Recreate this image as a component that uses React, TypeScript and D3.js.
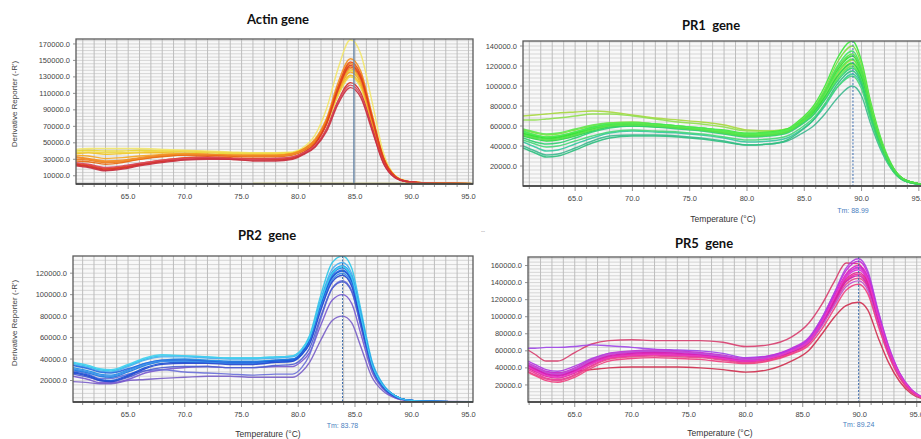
import React from "react";
import * as d3 from "d3";

// ---------- DATA (values in thousands of Derivative Reporter units) ----------
const X_TICKS = [65, 70, 75, 80, 85, 90, 95];

const ACTIN_T = [60.4, 61.5, 63, 64.5, 66, 68, 70, 72, 74, 76, 78, 79.5, 80.5, 81.5, 82.5, 83.5, 84.6, 85.5, 86.5, 87.5, 88.5, 89.5, 91, 93, 95.4];
const ACTIN_CURVES: (number | null)[][] = [
  [42, 43, 43, 43, 43, 42, 41, 40, 39, 38, 38, 39, 45, 60, 92, 140, 175, 158, 100, 38, 11, 4, 1.5, 0.8, 0.5],
  [40, 41, 40, 40, 41, 40, 39, 38, 37, 37, 37, 38, 43, 53, 77, 113, 138, 124, 76, 30, 9, 3, 1.3, 0.7, 0.4],
  [37, 38, 36, 37, 38, 38, 37, 36, 35, 35, 35, 36, 41, 51, 73, 108, 132, 119, 73, 29, 9, 3, 1.3, 0.7, 0.4],
  [38, 39, 38, 38, 39, 40, 40, 39, 38, 37, 37, 38, 43, 52, 74, 107, 130, 117, 72, 29, 9, 3, 1.3, 0.7, 0.4],
  [35, 34, 31, 32, 34, 36, 37, 36, 35, 35, 35, 37, 42, 52, 75, 111, 136, 122, 75, 30, 9, 3, 1.3, 0.7, 0.4],
  [33, 31, 28, 29, 32, 35, 36, 36, 35, 35, 35, 37, 43, 55, 80, 123, 152, 137, 85, 33, 10, 3.5, 1.4, 0.8, 0.5],
  [30, 29, 26, 27, 30, 34, 35, 35, 34, 34, 34, 36, 42, 53, 78, 118, 146, 131, 81, 32, 10, 3.5, 1.4, 0.7, 0.5],
  [28, 27, 24, 26, 30, 33, 35, 35, 34, 33, 33, 35, 41, 52, 76, 115, 142, 127, 79, 31, 9, 3.2, 1.4, 0.7, 0.5],
  [32, 30, 27, 28, 31, 35, 36, 36, 35, 34, 34, 36, 42, 52, 76, 114, 140, 126, 78, 31, 9, 3.2, 1.3, 0.7, 0.5],
  [25, 23, 19, 21, 25, 29, 32, 33, 32, 31, 31, 33, 39, 50, 75, 118, 148, 133, 82, 32, 10, 3.4, 1.4, 0.7, 0.5],
  [24, 22, 18, 20, 24, 28, 31, 32, 31, 30, 30, 32, 38, 49, 73, 114, 144, 129, 80, 31, 9, 3.3, 1.4, 0.7, 0.5],
  [23, 21, 17, 19, 23, 27, 30, 31, 30, 29, 29, 31, 37, 46, 67, 101, 123, 111, 69, 27, 8, 3, 1.2, 0.6, 0.4],
  [26, 24, 20, 22, 25, 29, 31, 32, 31, 30, 31, 33, 38, 47, 67, 100, 120, 108, 67, 26, 8, 3, 1.2, 0.6, 0.4],
  [22, 20, 16, 18, 22, 26, 29, 30, 30, 28, 28, 30, 36, 45, 64, 97, 117, 105, 65, 25, 8, 3, 1.2, 0.6, 0.4],
  [null, null, null, null, null, null, null, null, null, 0.6, 0.6, 0.6, 0.6, 0.6, 0.6, 0.6, 0.6, 0.6, 0.6, 0.6, 0.6, 0.6, 0.6, 0.6, 0.6],
];
const ACTIN_COLORS = ["#f2e66a", "#e8d630", "#f0c020", "#f0d848", "#f5a623", "#f39020", "#ee7d18", "#e86a10", "#f08a2a", "#e8501a", "#dc3a20", "#d43028", "#d84860", "#c83040", "#b8b040"];
const ACTIN_Y_TICKS = [10000, 30000, 50000, 70000, 90000, 110000, 130000, 150000, 170000];

const PR1_T = [60.45, 61.5, 62.5, 63.5, 65, 66.5, 68, 70, 72, 74, 76, 78, 80, 82, 83.5, 84.7, 85.8, 86.8, 87.9, 89.2, 90, 90.8, 91.8, 92.8, 93.8, 95.45];
const PR1_CURVES: number[][] = [
  [70, 71, 72, 73, 74, 75, 74, 71, 68, 66, 64, 61, 56, 55, 57, 64, 74, 90, 112, 126, 110, 74, 39, 16, 6, 1.5],
  [66, 66, 67, 68, 70, 72, 72, 70, 67, 64, 62, 59, 55, 55, 57, 63, 72, 88, 109, 122, 107, 72, 38, 16, 6, 1.5],
  [40, 35, 31, 32, 38, 45, 50, 51, 51, 50, 48, 45, 41, 42, 45, 52, 60, 72, 88, 100, 90, 62, 33, 14, 5, 1.3],
  [44, 39, 35, 36, 42, 48, 53, 55, 54, 53, 51, 48, 44, 45, 48, 56, 66, 80, 99, 112, 100, 68, 36, 15, 5, 1.4],
  [38, 33, 29, 30, 36, 43, 48, 50, 50, 49, 47, 44, 41, 42, 46, 55, 66, 82, 102, 115, 102, 69, 36, 15, 5, 1.4],
  [46, 42, 39, 40, 45, 50, 54, 56, 55, 54, 52, 49, 46, 47, 50, 58, 68, 82, 99, 110, 97, 66, 35, 14, 5, 1.3],
  [52, 49, 47, 48, 52, 57, 61, 63, 62, 60, 58, 56, 53, 54, 57, 67, 80, 100, 128, 145, 125, 84, 44, 18, 6, 1.5],
  [56, 53, 51, 52, 56, 60, 63, 64, 62, 60, 58, 55, 52, 53, 56, 66, 78, 97, 124, 140, 121, 81, 42, 17, 6, 1.5],
  [55, 51, 49, 50, 54, 59, 62, 63, 62, 60, 58, 55, 52, 53, 56, 65, 77, 95, 120, 135, 117, 78, 41, 17, 6, 1.5],
  [53, 50, 48, 49, 53, 58, 61, 62, 61, 59, 57, 54, 51, 52, 55, 64, 75, 93, 116, 130, 113, 76, 40, 17, 6, 1.5],
  [54, 51, 49, 50, 54, 58, 61, 62, 61, 59, 57, 55, 52, 53, 56, 64, 75, 92, 114, 127, 111, 75, 39, 16, 6, 1.5],
  [50, 47, 45, 46, 50, 55, 59, 60, 59, 58, 56, 53, 50, 51, 54, 62, 73, 89, 110, 123, 108, 73, 38, 16, 6, 1.5],
  [57, 54, 52, 53, 57, 61, 63, 63, 61, 59, 57, 54, 51, 52, 55, 63, 72, 87, 107, 120, 105, 71, 37, 15, 5, 1.5],
  [48, 44, 42, 43, 48, 54, 58, 60, 59, 57, 55, 52, 49, 50, 53, 61, 71, 86, 105, 118, 104, 70, 37, 15, 5, 1.4],
  [51, 48, 46, 47, 51, 56, 60, 61, 60, 58, 56, 53, 50, 51, 54, 63, 76, 94, 118, 132, 115, 77, 40, 17, 6, 1.5],
];
const PR1_COLORS = ["#a8d840", "#90e050", "#40b890", "#38c8a0", "#30c080", "#48d878", "#3ee83e", "#7ee040", "#40e860", "#30e030", "#50ec50", "#28d848", "#60e850", "#30d070", "#58e048"];
const PR1_Y_TICKS = [20000, 40000, 60000, 80000, 100000, 120000, 140000];

const PR2_T = [60.15, 61.5, 62.5, 63.5, 65, 66.5, 68, 70, 72, 74, 76, 78, 79.5, 80.3, 81, 82, 83, 83.9, 84.7, 85.5, 86.5, 87.5, 88.5, 89.5, 91, 95.4];
const PR2_CURVES: number[][] = [
  [19, 18, 17, 17, 20, 21, 22, 23, 24, 24, 23, 23, 23, 28, 37, 58, 76, 80, 74, 52, 23, 10, 4, 1.5, 0.6, 0.2],
  [24, 21, 18, 18, 21, 27, 30, 32, 33, 32, 32, 33, 33, 38, 46, 72, 95, 100, 92, 64, 28, 12, 4, 1.5, 0.6, 0.2],
  [29, 26, 22, 22, 26, 29, 30, 28, 27, 26, 25, 26, 26, 32, 44, 78, 106, 113, 104, 72, 31, 13, 5, 2, 0.8, 0.3],
  [26, 23, 20, 19, 23, 29, 32, 33, 33, 32, 32, 34, 35, 40, 50, 80, 106, 112, 103, 71, 31, 13, 5, 2, 0.8, 0.3],
  [36, 33, 30, 29, 34, 40, 43, 43, 42, 41, 41, 42, 43, 49, 62, 100, 130, 136, 125, 87, 38, 16, 6, 2, 0.8, 0.3],
  [35, 32, 29, 28, 33, 39, 42, 42, 41, 40, 40, 41, 42, 48, 60, 96, 124, 130, 120, 84, 37, 16, 6, 2, 0.8, 0.3],
  [32, 29, 26, 25, 30, 36, 39, 40, 39, 38, 38, 39, 40, 46, 58, 94, 121, 127, 117, 82, 36, 15, 6, 2, 0.8, 0.3],
  [30, 27, 24, 23, 28, 34, 38, 39, 38, 37, 37, 39, 40, 46, 57, 92, 119, 125, 115, 80, 35, 15, 6, 2, 0.8, 0.3],
  [34, 31, 28, 27, 31, 36, 39, 39, 38, 37, 37, 38, 39, 45, 56, 91, 117, 123, 113, 79, 34, 15, 6, 2, 0.8, 0.3],
  [28, 25, 21, 20, 25, 32, 36, 37, 37, 36, 36, 38, 39, 45, 56, 90, 116, 122, 112, 78, 34, 14, 6, 2, 0.8, 0.3],
  [31, 28, 25, 24, 29, 35, 38, 38, 37, 36, 36, 37, 38, 44, 55, 88, 114, 120, 110, 77, 33, 14, 5, 2, 0.8, 0.3],
  [27, 24, 20, 19, 24, 31, 35, 36, 36, 35, 35, 37, 38, 44, 54, 86, 112, 118, 108, 75, 33, 14, 5, 2, 0.8, 0.3],
  [37, 34, 31, 30, 35, 41, 44, 43, 42, 41, 41, 42, 43, 49, 60, 94, 120, 126, 116, 81, 35, 15, 6, 2, 0.8, 0.3],
];
const PR2_COLORS = ["#7a60c8", "#7a5ad0", "#6a70d8", "#5060d0", "#30c8e8", "#48b0f0", "#2090e8", "#1a78e0", "#2a6ae0", "#1858d8", "#3a8ee8", "#2448d0", "#40d0f0"];
const PR2_Y_TICKS = [20000, 40000, 60000, 80000, 100000, 120000];

const PR5_T = [60.9, 61.5, 62.5, 63.5, 65, 66.5, 68, 70, 72, 74, 76, 78, 80, 82, 84, 85.5, 86.7, 87.8, 88.8, 89.9, 90.7, 91.6, 92.5, 93.5, 94.5, 95.9];
const PR5_CURVES: number[][] = [
  [61, 56, 48, 48, 58, 68, 72, 73, 72, 72, 72, 70, 65, 67, 76, 92, 115, 142, 163, 162, 140, 97, 60, 30, 13, 3],
  [40, 38, 35, 34, 36, 38, 40, 41, 41, 41, 40, 38, 35, 38, 48, 60, 80, 100, 113, 117, 108, 76, 47, 24, 10, 2.5],
  [63, 63, 64, 64, 65, 67, 66, 64, 62, 61, 60, 57, 52, 54, 62, 73, 96, 124, 148, 158, 145, 102, 63, 32, 14, 3],
  [42, 38, 32, 30, 36, 46, 53, 56, 57, 56, 55, 52, 49, 52, 61, 72, 96, 125, 150, 160, 147, 103, 64, 33, 14, 3],
  [46, 42, 36, 34, 40, 50, 57, 60, 61, 60, 58, 55, 51, 54, 63, 75, 99, 128, 154, 165, 151, 106, 66, 34, 15, 3],
  [38, 34, 28, 26, 32, 43, 51, 54, 55, 54, 53, 50, 47, 50, 58, 69, 92, 119, 142, 150, 138, 97, 60, 31, 13, 3],
  [44, 40, 34, 32, 38, 48, 55, 58, 59, 58, 56, 53, 49, 52, 61, 72, 95, 122, 146, 155, 142, 100, 62, 32, 14, 3],
  [36, 32, 27, 25, 31, 42, 50, 53, 54, 53, 52, 49, 46, 49, 57, 68, 90, 116, 138, 145, 134, 94, 58, 30, 13, 3],
  [48, 44, 38, 36, 42, 51, 57, 59, 60, 59, 57, 54, 50, 53, 62, 74, 99, 129, 157, 168, 154, 108, 67, 34, 15, 3],
  [40, 36, 30, 28, 34, 45, 52, 55, 56, 55, 54, 51, 48, 51, 59, 70, 93, 120, 144, 152, 140, 98, 61, 31, 13, 3],
  [43, 39, 33, 31, 37, 47, 54, 57, 58, 57, 55, 52, 48, 51, 59, 70, 92, 118, 141, 148, 136, 96, 59, 30, 13, 3],
  [45, 41, 35, 33, 39, 49, 56, 59, 60, 59, 57, 54, 50, 52, 60, 70, 90, 114, 135, 142, 131, 92, 57, 29, 12, 3],
  [35, 31, 25, 23, 29, 40, 48, 51, 52, 51, 50, 47, 45, 48, 56, 66, 86, 110, 131, 138, 127, 90, 56, 28, 12, 3],
  [41, 37, 31, 29, 35, 45, 52, 55, 56, 55, 54, 51, 48, 51, 60, 71, 94, 123, 148, 157, 144, 101, 63, 32, 14, 3],
];
const PR5_COLORS = ["#d84070", "#d03050", "#a048e8", "#e020c0", "#c828d8", "#f030a0", "#d830e0", "#e84890", "#b040e0", "#e02890", "#d020b0", "#c050d0", "#f04080", "#e838c8"];
const PR5_Y_TICKS = [20000, 40000, 60000, 80000, 100000, 120000, 140000, 160000];

const TITLES = ["Actin gene", "PR1  gene", "PR2  gene", "PR5  gene"];
const TM_LABELS = ["", "Tm: 88.99", "Tm: 83.78", "Tm: 89.24"];
const TM_POSITIONS = [84.9, 89.25, 83.9, 89.9];
const Y_LABEL = "Derivative Reporter (-R')";
const X_LABEL = "Temperature (°C)";

// ---------- LAYOUT ----------
type Panel = {
  id: string;
  left: number; right: number; top: number; bottom: number;
  xDomain: [number, number]; yMax: number; yTicks: number[];
  temps: number[]; curves: (number | null)[][]; colors: string[];
  title: string; titleX: number; titleY: number;
  tm: number; tmLabel: string; tmSolid: boolean; tmLabelY: number;
  yLabel: boolean; yLabelY: number;
  xLabel: boolean; xLabelX: number; xLabelY: number;
};

const PANELS: Panel[] = [
  { id: "actin", left: 76, right: 473, top: 39, bottom: 184, xDomain: [60.4, 95.4], yMax: 176000, yTicks: ACTIN_Y_TICKS,
    temps: ACTIN_T, curves: ACTIN_CURVES, colors: ACTIN_COLORS, title: TITLES[0], titleX: 278, titleY: 24,
    tm: TM_POSITIONS[0], tmLabel: TM_LABELS[0], tmSolid: true, tmLabelY: 0, yLabel: true, yLabelY: 104,
    xLabel: false, xLabelX: 0, xLabelY: 0 },
  { id: "pr1", left: 523, right: 924, top: 41, bottom: 186, xDomain: [60.45, 95.45], yMax: 145000, yTicks: PR1_Y_TICKS,
    temps: PR1_T, curves: PR1_CURVES, colors: PR1_COLORS, title: TITLES[1], titleX: 711, titleY: 30,
    tm: TM_POSITIONS[1], tmLabel: TM_LABELS[1], tmSolid: false, tmLabelY: 213, yLabel: false, yLabelY: 0,
    xLabel: true, xLabelX: 723, xLabelY: 222 },
  { id: "pr2", left: 73, right: 473, top: 256, bottom: 402, xDomain: [60.15, 95.4], yMax: 136000, yTicks: PR2_Y_TICKS,
    temps: PR2_T, curves: PR2_CURVES, colors: PR2_COLORS, title: TITLES[2], titleX: 267, titleY: 240,
    tm: TM_POSITIONS[2], tmLabel: TM_LABELS[2], tmSolid: false, tmLabelY: 428, yLabel: true, yLabelY: 323,
    xLabel: true, xLabelX: 268, xLabelY: 437 },
  { id: "pr5", left: 528, right: 927, top: 257, bottom: 402, xDomain: [60.9, 95.9], yMax: 170000, yTicks: PR5_Y_TICKS,
    temps: PR5_T, curves: PR5_CURVES, colors: PR5_COLORS, title: TITLES[3], titleX: 704, titleY: 248,
    tm: TM_POSITIONS[3], tmLabel: TM_LABELS[3], tmSolid: false, tmLabelY: 427, yLabel: false, yLabelY: 0,
    xLabel: true, xLabelX: 720, xLabelY: 436 },
];

const SANS = "'Liberation Sans', Arial, sans-serif";

function PanelView({ p }: { p: Panel }) {
  const x = d3.scaleLinear().domain(p.xDomain).range([p.left, p.right]);
  const y = d3.scaleLinear().domain([0, p.yMax]).range([p.bottom, p.top]);
  const line = d3
    .line<[number, number | null]>()
    .defined((d) => d[1] != null)
    .x((d) => x(d[0]))
    .y((d) => y((d[1] as number) * 1000))
    .curve(d3.curveMonotoneX);

  const degs = d3.range(Math.ceil(p.xDomain[0]), Math.floor(p.xDomain[1]) + 1);
  const step = (p.yTicks[1] - p.yTicks[0]) / 5;
  const hLines: number[] = [];
  let start = p.yTicks[0];
  while (start - step > 0) start -= step;
  for (let v = start; v < p.yMax; v += step) hLines.push(v);
  const clipId = `clip-${p.id}`;
  const ax = x(p.tm);

  return (
    <g>
      <defs>
        <clipPath id={clipId}>
          <rect x={p.left} y={p.top} width={p.right - p.left} height={p.bottom - p.top} />
        </clipPath>
      </defs>
      <rect x={p.left} y={p.top} width={p.right - p.left} height={p.bottom - p.top} fill="#f8f8f8" />
      <g clipPath={`url(#${clipId})`}>
        {hLines.map((v, i) => (
          <line key={"h" + i} x1={p.left} x2={p.right} y1={y(v)} y2={y(v)} stroke="#cdcdcd" strokeWidth={0.8} />
        ))}
        {degs.map((d) => (
          <line key={"v" + d} x1={x(d)} x2={x(d)} y1={p.top} y2={p.bottom} stroke="#bdbdbd" strokeWidth={1} />
        ))}
        {p.curves.map((c, i) => (
          <path
            key={"c" + i}
            d={line(p.temps.map((t, k) => [t, c[k]] as [number, number | null])) || ""}
            fill="none"
            stroke={p.colors[i]}
            strokeWidth={1.4}
            strokeOpacity={0.92}
          />
        ))}
        <line
          x1={ax} x2={ax} y1={p.top} y2={p.bottom}
          stroke={p.tmSolid ? "#6a88a8" : "#3f6fb0"}
          strokeWidth={p.tmSolid ? 1.4 : 1}
          strokeDasharray={p.tmSolid ? undefined : "2,1.5"}
        />
      </g>
      {/* frame */}
      <rect x={p.left} y={p.top} width={p.right - p.left} height={p.bottom - p.top} fill="none" stroke="#5a5a5a" strokeWidth={1.3} />
      <line x1={p.left} x2={p.right} y1={p.bottom} y2={p.bottom} stroke="#3c3c3c" strokeWidth={1.6} />
      {/* x ticks */}
      {degs.map((d) => (
        <line key={"xt" + d} x1={x(d)} x2={x(d)} y1={p.bottom + 1} y2={p.bottom + (d % 5 === 0 ? 5 : 3)} stroke="#777" strokeWidth={0.8} />
      ))}
      {X_TICKS.map((t) => (
        <text key={"xl" + t} x={x(t)} y={p.bottom + 15} fontSize={7.5} fill="#444" textAnchor="middle" fontFamily={SANS}>
          {t.toFixed(1)}
        </text>
      ))}
      {/* y ticks */}
      {p.yTicks.map((t) => (
        <g key={"yt" + t}>
          <line x1={p.left - 3} x2={p.left} y1={y(t)} y2={y(t)} stroke="#777" strokeWidth={0.8} />
          <text x={p.left - 6} y={y(t) + 2.6} fontSize={7.5} fill="#444" textAnchor="end" fontFamily={SANS}>
            {t.toFixed(1)}
          </text>
        </g>
      ))}
      {/* title */}
      <text x={p.titleX} y={p.titleY} fontSize={13} fontWeight={700} textAnchor="middle" fill="#111"
        fontFamily="Lato, 'Open Sans', sans-serif" style={{ whiteSpace: "pre" }}>
        {p.title}
      </text>
      {p.yLabel && (
        <text transform={`translate(17,${p.yLabelY}) rotate(-90)`} fontSize={8} fill="#444" textAnchor="middle" fontFamily={SANS}>
          {Y_LABEL}
        </text>
      )}
      {p.xLabel && (
        <text x={p.xLabelX} y={p.xLabelY} fontSize={8.5} fill="#333" textAnchor="middle" fontFamily={SANS}>
          {X_LABEL}
        </text>
      )}
      {p.tmLabel && (
        <text x={ax} y={p.tmLabelY} fontSize={7} fill="#4a80c0" textAnchor="middle" fontFamily={SANS}>
          {p.tmLabel}
        </text>
      )}
    </g>
  );
}

export default function App() {
  return (
    <svg
      width={921}
      height={439}
      viewBox="0 0 921 439"
      style={{ position: "absolute", left: 0, top: 0, display: "block", background: "#ffffff" }}
    >
      <rect x={0} y={0} width={921} height={439} fill="#ffffff" />
      {PANELS.map((p) => (
        <PanelView key={p.id} p={p} />
      ))}
      <text x={483} y={233} fontSize={6} fill="#888" textAnchor="middle" fontFamily={SANS}>--</text>
    </svg>
  );
}
